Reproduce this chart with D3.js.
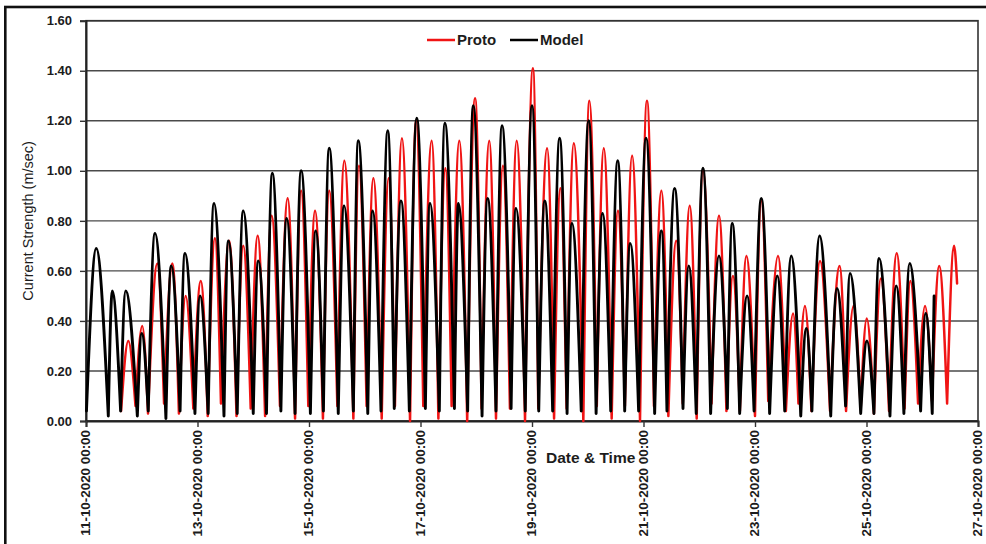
<!DOCTYPE html>
<html>
<head>
<meta charset="utf-8">
<script src="https://cdn.jsdelivr.net/npm/d3@7"></script>
<style>
  html, body { margin: 0; padding: 0; background: #fff; }
  svg { display: block; font-family: "Liberation Sans", Arial, sans-serif; }
</style>
</head>
<body>
<svg id="chart" width="986" height="544"></svg>
<script>
// Time axis: hours counted from 11-10-2020 00:00
const startDate = new Date(2020, 9, 11, 0, 0);
const endDate = new Date(2020, 9, 27, 0, 0);
const xTickDates = [11, 13, 15, 17, 19, 21, 23, 25, 27].map(d => new Date(2020, 9, d, 0, 0));
const yTicks = [0, 0.2, 0.4, 0.6, 0.8, 1.0, 1.2, 1.4, 1.6];

const seriesNames = ["Proto", "Model"];
const seriesColors = ["#f01414", "#000000"];

// Observed current strength (m/sec): alternating slack / peak readings
const protoHours = [
  15.1, 18.2, 21.3, 24.2, 26.7, 30.7, 33.6, 37.2, 40.0, 42.9, 46.2, 49.4, 52.4, 55.5, 58.1, 61.6,
  64.8, 67.7, 70.9, 73.9, 77.1, 79.9, 83.5, 86.8, 90.0, 92.6, 95.7, 98.6, 102.0, 104.7, 108.2, 111.2,
  115.1, 117.5, 120.8, 123.7, 127.3, 130.3, 133.0, 136.0, 139.5, 142.1, 145.2, 148.8, 151.7, 154.7,
  157.4, 160.7, 164.1, 167.5, 170.3, 173.6, 176.5, 179.5, 182.5, 185.4, 189.0, 192.4, 194.7, 198.5,
  201.5, 204.2, 206.9, 210.0, 214.1, 216.7, 219.9, 222.9, 226.3, 229.0, 232.0, 235.1, 238.5, 241.5,
  244.5, 247.7, 250.7, 254.1, 256.9, 259.9, 262.9, 265.6, 269.3, 272.5, 275.7, 278.5, 281.5, 284.3,
  288.0, 290.7, 293.7, 297.9, 301.3, 304.4, 306.7, 309.5, 312.3, 316.0, 320.3, 324.4, 327.2, 330.4,
  333.5, 336.1, 339.2, 342.2, 345.7, 349.0, 352.4, 354.9, 358.2, 361.2, 364.2, 367.3, 370.7, 373.7,
  375.0
];
const protoValues = [
  0.04, 0.32, 0.06, 0.38, 0.03, 0.63, 0.07, 0.63, 0.03, 0.50, 0.05, 0.56, 0.02, 0.73, 0.07, 0.72,
  0.02, 0.70, 0.05, 0.74, 0.02, 0.82, 0.06, 0.89, 0.01, 0.92, 0.06, 0.84, 0.01, 0.92, 0.06, 1.04,
  0.01, 1.02, 0.06, 0.97, 0.01, 0.97, 0.06, 1.13, 0.00, 1.20, 0.06, 1.12, 0.01, 1.01,
  0.06, 1.12, 0.00, 1.29, 0.05, 1.12, 0.01, 1.02, 0.05, 1.12, 0.00, 1.41, 0.05, 1.09,
  0.01, 0.93, 0.05, 1.11, 0.00, 1.28, 0.06, 1.09, 0.01, 0.84, 0.06, 1.06, 0.00, 1.28,
  0.06, 0.92, 0.02, 0.72, 0.07, 0.86, 0.01, 1.00, 0.07, 0.82, 0.04, 0.58, 0.04, 0.66,
  0.02, 0.88, 0.08, 0.66, 0.04, 0.43, 0.07, 0.46, 0.04, 0.64, 0.04, 0.62, 0.04, 0.46,
  0.05, 0.41, 0.03, 0.57, 0.04, 0.67, 0.05, 0.56, 0.07, 0.46, 0.08, 0.62, 0.07, 0.70,
  0.55
];

// Model current strength (m/sec): alternating slack / peak values
const modelHours = [
  0.2, 4.4, 9.6, 11.3, 14.9, 17.1, 22.1, 24.0, 26.8, 29.7, 34.4, 36.7, 40.5, 42.6, 46.9, 49.1,
  52.6, 55.1, 59.4, 61.3, 65.1, 67.7, 72.0, 74.2, 77.7, 80.2, 83.9, 86.4, 90.0, 92.6, 96.6, 98.9,
  102.2, 104.7, 108.6, 111.1, 115.1, 117.2, 121.3, 123.4, 127.0, 129.9, 132.7, 135.6, 139.2, 142.4,
  146.1, 148.1, 152.1, 154.5, 158.6, 160.3, 164.3, 166.7, 170.5, 172.9, 176.5, 179.1, 183.0, 185.1,
  189.1, 192.0, 194.9, 197.5, 200.9, 203.9, 207.1, 209.2, 213.2, 216.4, 219.6, 222.4, 225.9, 228.9,
  231.9, 234.3, 237.9, 241.1, 244.8, 247.7, 250.1, 253.4, 257.0, 259.5, 262.7, 265.6, 268.9, 272.5,
  276.1, 278.2, 281.4, 284.6, 287.6, 290.7, 294.3, 297.6, 300.8, 303.6, 307.7, 310.1, 312.5, 315.8,
  320.6, 323.3, 327.0, 328.9, 333.5, 336.2, 339.2, 341.4, 346.1, 348.8, 352.1, 354.6, 359.3, 361.5,
  364.3, 365.1
];
const modelValues = [
  0.04, 0.69, 0.02, 0.52, 0.04, 0.52, 0.02, 0.35, 0.04, 0.75, 0.01, 0.62, 0.04, 0.67, 0.03, 0.50,
  0.03, 0.87, 0.02, 0.72, 0.03, 0.84, 0.03, 0.64, 0.03, 0.99, 0.04, 0.81, 0.03, 1.00, 0.03, 0.76,
  0.04, 1.09, 0.03, 0.86, 0.04, 1.12, 0.03, 0.84, 0.04, 1.16, 0.05, 0.88, 0.04, 1.21,
  0.05, 0.87, 0.04, 1.19, 0.05, 0.87, 0.04, 1.26, 0.02, 0.89, 0.04, 1.18, 0.05, 0.85,
  0.04, 1.26, 0.04, 0.88, 0.04, 1.13, 0.03, 0.79, 0.04, 1.20, 0.03, 0.83, 0.04, 1.04,
  0.04, 0.71, 0.04, 1.13, 0.03, 0.76, 0.04, 0.93, 0.05, 0.62, 0.03, 1.01, 0.03, 0.66,
  0.05, 0.79, 0.03, 0.50, 0.04, 0.89, 0.03, 0.58, 0.04, 0.66, 0.02, 0.37, 0.04, 0.74,
  0.02, 0.53, 0.06, 0.59, 0.03, 0.32, 0.03, 0.65, 0.02, 0.54, 0.03, 0.63, 0.04, 0.43,
  0.03, 0.50
];

const svg = d3.select("#chart");
const W = 986, H = 544;
const plot = { left: 86, right: 978, top: 20.7, bottom: 421 };

const x = d3.scaleTime().domain([startDate, endDate]).range([plot.left, plot.right]);
const y = d3.scaleLinear().domain([0, 1.6]).range([plot.bottom, plot.top]);

svg.append("rect").attr("width", W).attr("height", H).attr("fill", "#fff");

// outer frame
svg.append("rect")
  .attr("x", 5.3).attr("y", 7).attr("width", W + 20).attr("height", H + 20)
  .attr("fill", "none").attr("stroke", "#111").attr("stroke-width", 2.6);

// horizontal grid
svg.append("g").selectAll("line").data(yTicks).join("line")
  .attr("x1", plot.left).attr("x2", plot.right)
  .attr("y1", d => y(d)).attr("y2", d => y(d))
  .attr("stroke", "#4a4a4a").attr("stroke-width", 1.4);

// plot frame
svg.append("rect")
  .attr("x", plot.left).attr("y", plot.top)
  .attr("width", plot.right - plot.left).attr("height", plot.bottom - plot.top)
  .attr("fill", "none").attr("stroke", "#333").attr("stroke-width", 1.6);

// y axis
const yAxis = svg.append("g")
  .attr("transform", `translate(${plot.left},0)`)
  .call(d3.axisLeft(y).tickValues(yTicks).tickFormat(d3.format(".2f")).tickSize(6).tickPadding(8));
yAxis.select(".domain").attr("stroke", "#222").attr("stroke-width", 2);
yAxis.selectAll(".tick line").attr("stroke", "#333").attr("stroke-width", 1.4);
yAxis.selectAll(".tick text")
  .attr("font-size", 13).attr("font-weight", "bold").attr("fill", "#1c1c1c")
  .attr("font-family", "'Liberation Sans', Arial, sans-serif");

// x axis
const fmt = d3.timeFormat("%d-%m-%Y %H:%M");
const xAxis = svg.append("g")
  .attr("transform", `translate(0,${plot.bottom})`)
  .call(d3.axisBottom(x).tickValues(xTickDates).tickFormat(fmt).tickSize(6));
xAxis.select(".domain").attr("stroke", "#222").attr("stroke-width", 2);
xAxis.selectAll(".tick line").attr("stroke", "#333").attr("stroke-width", 1.4);
xAxis.selectAll(".tick text")
  .attr("transform", "rotate(-90)")
  .attr("text-anchor", "end")
  .attr("x", -9).attr("y", -1).attr("dy", "0.35em")
  .attr("font-size", 13.4).attr("font-weight", "bold").attr("fill", "#1c1c1c")
  .attr("font-family", "'Liberation Sans', Arial, sans-serif");

// axis titles
svg.append("text")
  .attr("transform", `translate(33,${(plot.top + plot.bottom) / 2}) rotate(-90)`)
  .attr("text-anchor", "middle")
  .attr("font-size", 14.5).attr("fill", "#1c1c1c")
  .text("Current Strength (m/sec)");
svg.append("text")
  .attr("x", 546).attr("y", 463)
  .attr("font-size", 15.5).attr("font-weight", "bold").attr("fill", "#1c1c1c")
  .text("Date & Time");

// series: each flood / ebb arch runs slack -> peak -> slack
const line = d3.line().x(d => x(d.t)).y(d => y(d.v)).curve(d3.curveMonotoneX);
function archPath(hours, values) {
  const pts = hours.map((h, i) => ({ t: new Date(+startDate + h * 3600e3), v: values[i] }));
  let d = "";
  for (let i = 0; i < pts.length - 1; i += 2) d += line(pts.slice(i, i + 3));
  return d;
}

const series = [
  { name: seriesNames[0], color: seriesColors[0], hours: protoHours, values: protoValues, width: 2.5 },
  { name: seriesNames[1], color: seriesColors[1], hours: modelHours, values: modelValues, width: 2.9 }
];

svg.append("g").selectAll("path").data(series).join("path")
  .attr("d", s => archPath(s.hours, s.values))
  .attr("fill", "none")
  .attr("stroke", s => s.color)
  .attr("stroke-width", s => s.width)
  .attr("stroke-linejoin", "round")
  .attr("stroke-linecap", "round");

// legend
const legend = svg.append("g");
const legendX = [427, 510];
series.forEach((s, i) => {
  legend.append("line")
    .attr("x1", legendX[i]).attr("x2", legendX[i] + 28)
    .attr("y1", 40).attr("y2", 40)
    .attr("stroke", s.color).attr("stroke-width", 2.5);
  legend.append("text")
    .attr("x", legendX[i] + 30).attr("y", 44.5)
    .attr("font-size", 15).attr("font-weight", "bold").attr("fill", "#1c1c1c")
    .text(s.name);
});
</script>
</body>
</html>
